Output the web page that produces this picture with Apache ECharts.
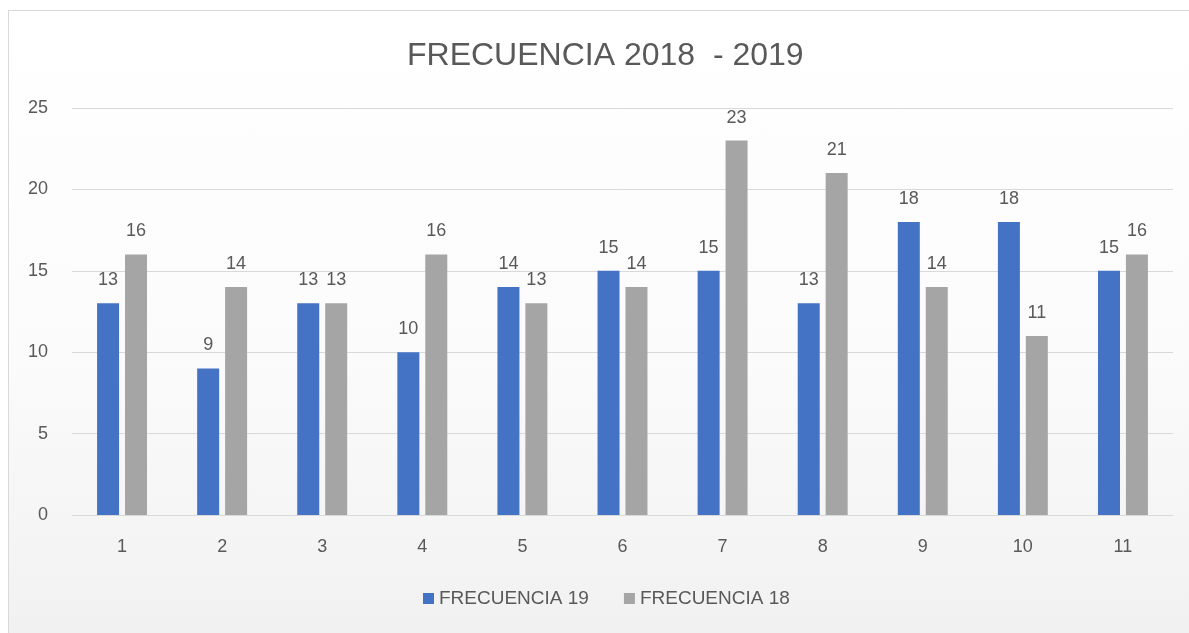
<!DOCTYPE html>
<html>
<head>
<meta charset="utf-8">
<title>FRECUENCIA 2018 - 2019</title>
<script src="https://cdn.jsdelivr.net/npm/echarts@6/dist/echarts.min.js"></script>
<style>
  html, body {
    margin: 0;
    padding: 0;
    background: #fff;
  }
  .frame {
    position: absolute;
    left: 8px;
    top: 10px;
    width: 1181px;
    height: 623px;
    border-left: 1px solid #d9d9d9;
    border-top: 1px solid #d9d9d9;
    background: linear-gradient(to bottom, #ffffff 0%, #fbfbfb 55%, #f1f1f1 100%);
  }
  #chart {
    position: absolute;
    left: 0;
    top: 0;
    width: 1189px;
    height: 633px;
  }
</style>
</head>
<body>
<div class="frame"></div>
<div id="chart"></div>
<script>
// datos
const categories = ['1', '2', '3', '4', '5', '6', '7', '8', '9', '10', '11'];
const frecuencia19 = [13, 9, 13, 10, 14, 15, 15, 13, 18, 18, 15];
const frecuencia18 = [16, 14, 13, 16, 13, 14, 23, 21, 14, 11, 16];
const yTicks = { min: 0, max: 25, interval: 5 };

const textColor = '#595959';
const fontFamily = '"Liberation Sans", Arial, sans-serif';

const chart = echarts.init(document.getElementById('chart'), null, { renderer: 'canvas' });

const labelStyle = {
  show: true,
  position: 'top',
  distance: 14,
  color: textColor,
  fontSize: 18,
  fontFamily: fontFamily
};

chart.setOption({
  backgroundColor: 'transparent',
  animation: false,
  title: {
    text: 'FRECUENCIA 2018  - 2019',
    left: 402,
    top: 35,
    textStyle: {
      color: textColor,
      fontSize: 32,
      fontWeight: 'normal',
      fontFamily: fontFamily
    }
  },
  legend: {
    left: 418,
    top: 584,
    itemWidth: 11,
    itemHeight: 11,
    itemGap: 35,
    icon: 'rect',
    textStyle: {
      color: textColor,
      fontSize: 19,
      fontFamily: fontFamily
    },
    data: ['FRECUENCIA 19', 'FRECUENCIA 18']
  },
  grid: {
    left: 72,
    right: 16,
    top: 108,
    bottom: 118
  },
  xAxis: {
    type: 'category',
    data: categories,
    axisLine: { lineStyle: { color: '#d9d9d9', width: 1 } },
    axisTick: { show: false },
    axisLabel: {
      color: textColor,
      fontSize: 18,
      fontFamily: fontFamily,
      margin: 23
    }
  },
  yAxis: {
    type: 'value',
    min: yTicks.min,
    max: yTicks.max,
    interval: yTicks.interval,
    axisLine: { show: false },
    axisTick: { show: false },
    splitLine: { lineStyle: { color: '#d9d9d9', width: 1 } },
    axisLabel: {
      color: textColor,
      fontSize: 18,
      fontFamily: fontFamily,
      margin: 24
    }
  },
  series: [
    {
      name: 'FRECUENCIA 19',
      type: 'bar',
      data: frecuencia19,
      barWidth: 22,
      barGap: '27%',
      itemStyle: { color: '#4472c4' },
      label: labelStyle
    },
    {
      name: 'FRECUENCIA 18',
      type: 'bar',
      data: frecuencia18,
      barWidth: 22,
      barGap: '27%',
      itemStyle: { color: '#a5a5a5' },
      label: labelStyle
    }
  ]
});
</script>
</body>
</html>
